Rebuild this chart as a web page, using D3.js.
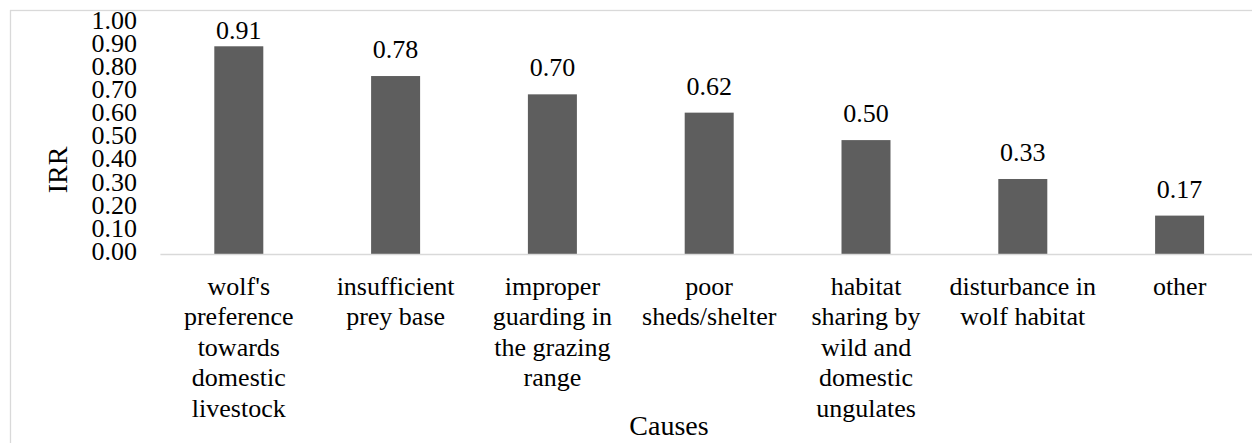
<!DOCTYPE html>
<html>
<head>
<meta charset="utf-8">
<script src="https://cdn.jsdelivr.net/npm/d3@7"></script>
<style>
  html, body { margin: 0; padding: 0; background: #fff; }
  svg { display: block; }
</style>
</head>
<body>
<svg id="chart" width="1252" height="443"></svg>
<script>
const categories = [
  "wolf's preference towards domestic livestock",
  "insufficient prey base",
  "improper guarding in the grazing range",
  "poor sheds/shelter",
  "habitat sharing by wild and domestic ungulates",
  "disturbance in wolf habitat",
  "other"
];
const categoryLines = [
  ["wolf's", "preference", "towards", "domestic", "livestock"],
  ["insufficient", "prey base"],
  ["improper", "guarding in", "the grazing", "range"],
  ["poor", "sheds/shelter"],
  ["habitat", "sharing by", "wild and", "domestic", "ungulates"],
  ["disturbance in", "wolf habitat"],
  ["other"]
];
const values = [0.91, 0.78, 0.70, 0.62, 0.50, 0.33, 0.17];
const yTicks = [0, 0.1, 0.2, 0.3, 0.4, 0.5, 0.6, 0.7, 0.8, 0.9, 1.0];
const xTitle = "Causes";
const yTitle = "IRR";

const FONT = '"Liberation Serif"';
const svg = d3.select("#chart");

// outer chart border (right and bottom edges run past the picture)
svg.append("rect")
  .attr("x", 10.5).attr("y", 10.5)
  .attr("width", 1260).attr("height", 450)
  .attr("fill", "none").attr("stroke", "#d9d9d9").attr("stroke-width", 1.3);

const plotLeft = 160.4, bandW = 156.8;
const x = d3.scaleBand()
  .domain(categories)
  .range([plotLeft, plotLeft + bandW * categories.length])
  .paddingInner(0.6875).paddingOuter(0.34375);

const y = d3.scaleLinear().domain([0, 1]).range([254.5, 25.7]);

// bars
svg.append("g").selectAll("rect")
  .data(values)
  .join("rect")
  .attr("x", (d, i) => x(categories[i]))
  .attr("width", x.bandwidth())
  .attr("y", d => y(d))
  .attr("height", d => y(0) - y(d))
  .attr("fill", "#5e5e5e");

// x axis line
svg.append("line")
  .attr("x1", plotLeft).attr("x2", 1252)
  .attr("y1", y(0)).attr("y2", y(0))
  .attr("stroke", "#d9d9d9").attr("stroke-width", 1.5);

// y tick labels
svg.append("g").selectAll("text")
  .data(yTicks)
  .join("text")
  .attr("x", 137)
  .attr("y", d => y(d) + 5.5 - d * 2.5)
  .attr("text-anchor", "end")
  .style("font-family", FONT)
  .style("font-size", "26px")
  .text(d => d3.format(".2f")(d));

// data labels
svg.append("g").selectAll("text")
  .data(values)
  .join("text")
  .attr("x", (d, i) => x(categories[i]) + x.bandwidth() / 2)
  .attr("y", d => Math.max(y(d) - 18, y(1) + 13.5))
  .attr("text-anchor", "middle")
  .style("font-family", FONT)
  .style("font-size", "26px")
  .text(d => d3.format(".2f")(d));

// category labels
const catG = svg.append("g").selectAll("text")
  .data(categoryLines)
  .join("text")
  .attr("text-anchor", "middle")
  .style("font-family", FONT)
  .style("font-size", "26px")
  .attr("transform", (d, i) => `translate(${x(categories[i]) + x.bandwidth() / 2},295)`);
catG.selectAll("tspan")
  .data(d => d)
  .join("tspan")
  .attr("x", 0)
  .attr("y", (d, j) => j * 30.4)
  .text(d => d);

// axis titles
svg.append("text")
  .attr("x", 669).attr("y", 435)
  .attr("text-anchor", "middle")
  .style("font-family", FONT)
  .style("font-size", "28px")
  .text(xTitle);

svg.append("text")
  .attr("transform", "translate(67,170) rotate(-90)")
  .attr("text-anchor", "middle")
  .style("font-family", FONT)
  .style("font-size", "28px")
  .text(yTitle);
</script>
</body>
</html>
